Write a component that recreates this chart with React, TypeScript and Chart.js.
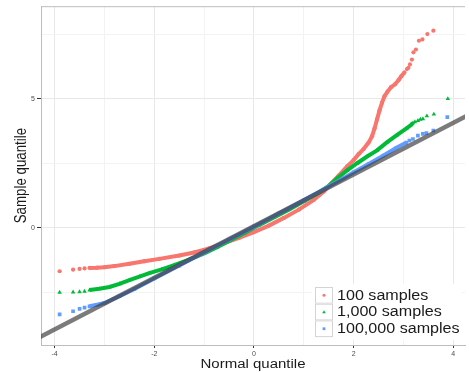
import React, { useEffect, useRef } from 'react';
import { Chart, registerables } from 'chart.js';
Chart.register(...registerables);

const SERIES_LABELS = ['100 samples', '1,000 samples', '100,000 samples'];
const X_TITLE = 'Normal quantile';
const Y_TITLE = 'Sample quantile';
const X_TICK_LABELS = [-4, -2, 0, 2, 4];
const Y_TICK_LABELS = [0, 5];

const RED_X = [-3.9, -3.63, -3.5, -3.4, -3.3, -3.15, -3.0, -2.8, -2.5, -2.2, -1.9, -1.5, -1.2, -0.9, -0.6, -0.3, 0.0, 0.3, 0.6, 0.9, 1.2, 1.4, 1.55, 1.7, 1.87, 2.0, 2.1, 2.2, 2.3, 2.37, 2.42, 2.47, 2.52, 2.57, 2.62, 2.68, 2.75, 2.83, 2.9, 2.96, 3.02, 3.07, 3.1, 3.13, 3.17, 3.2, 3.25, 3.31, 3.38, 3.48, 3.6];
const RED_Y = [-1.69, -1.63, -1.6, -1.58, -1.56, -1.55, -1.53, -1.49, -1.4, -1.3, -1.21, -1.08, -0.96, -0.8, -0.6, -0.4, -0.17, 0.08, 0.38, 0.7, 1.08, 1.4, 1.72, 2.02, 2.38, 2.62, 2.85, 3.05, 3.3, 3.55, 3.85, 4.2, 4.55, 4.85, 5.1, 5.28, 5.45, 5.56, 5.72, 5.88, 6.02, 6.15, 6.2, 6.33, 6.52, 6.8, 6.91, 7.25, 7.3, 7.51, 7.64];

const GREEN_X = [-3.9, -3.63, -3.5, -3.4, -3.3, -3.1, -2.9, -2.7, -2.5, -2.3, -2.1, -1.85, -1.6, -1.3, -1.0, -0.75, -0.5, -0.2, 0.1, 0.4, 0.7, 1.0, 1.3, 1.5, 1.67, 1.87, 2.07, 2.27, 2.47, 2.66, 2.86, 3.06, 3.15, 3.19, 3.23, 3.29, 3.34, 3.39, 3.47, 3.61, 3.89];
const GREEN_Y = [-2.51, -2.5, -2.49, -2.47, -2.42, -2.37, -2.3, -2.18, -2.03, -1.9, -1.76, -1.62, -1.45, -1.24, -1.0, -0.77, -0.52, -0.22, 0.1, 0.4, 0.7, 1.02, 1.36, 1.62, 1.92, 2.22, 2.5, 2.76, 3.0, 3.3, 3.58, 3.85, 3.98, 4.06, 4.1, 4.15, 4.2, 4.22, 4.33, 4.4, 5.0];

const BLUE_X = [-3.9, -3.63, -3.5, -3.4, -3.3, -3.15, -3.0, -2.7, -2.4, -2.0, -1.5, -1.0, -0.5, 0, 0.5, 1.0, 1.5, 1.8, 2.0, 2.3, 2.6, 2.86, 3.06, 3.12, 3.19, 3.29, 3.39, 3.46, 3.6, 3.88];
const BLUE_Y = [-3.36, -3.24, -3.15, -3.1, -3.05, -2.99, -2.92, -2.66, -2.38, -1.97, -1.47, -0.96, -0.46, 0.04, 0.55, 1.06, 1.6, 1.92, 2.15, 2.47, 2.8, 3.1, 3.3, 3.38, 3.44, 3.57, 3.64, 3.67, 3.77, 4.29];

const REF_X = [-4.35, 4.3];
const REF_Y = [-4.3, 4.37];

const COLORS = ['#F8766D', '#00BA38', '#619CFF'];
const SHAPES = ['circle', 'triangle', 'rect'];
const SOLID_RANGES = [[-3.35, 3.03], [-3.35, 3.2], [-3.35, 3.1]];

const toPts = (xs: number[], ys: number[]) => xs.map((x, i) => ({ x, y: ys[i] }));

const FONT = "'Liberation Sans', Arial, sans-serif";

export default function App() {
  const ref = useRef<HTMLCanvasElement | null>(null);
  useEffect(() => {
    document.body.style.margin = '0';
    const canvas = ref.current!;
    const seriesPts = [toPts(RED_X, RED_Y), toPts(GREEN_X, GREEN_Y), toPts(BLUE_X, BLUE_Y)];
    const datasets: any[] = seriesPts.map((pts, i) => ({
      label: SERIES_LABELS[i],
      data: pts,
      showLine: true,
      borderWidth: 4,
      borderColor: COLORS[i],
      backgroundColor: COLORS[i],
      pointBackgroundColor: COLORS[i],
      pointBorderColor: COLORS[i],
      pointBorderWidth: 0,
      pointRadius: i === 0 ? 2.1 : 2.6,
      pointStyle: SHAPES[i],
      order: 3 - i,
      clip: 0,
      segment: {
        borderColor: (ctx: any) => {
          const [lo, hi] = SOLID_RANGES[i];
          return ctx.p0.parsed.x >= lo && ctx.p1.parsed.x <= hi ? COLORS[i] : 'rgba(0,0,0,0)';
        },
      },
    }));
    datasets.push({
      label: 'ref',
      data: toPts(REF_X, REF_Y),
      showLine: true,
      borderColor: 'rgba(60,60,60,0.68)',
      borderWidth: 4.5,
      pointRadius: 0,
      order: 0,
      clip: 0,
    });

    const frame = {
      id: 'frame',
      afterDatasetsDraw(chart: any) {
        const { ctx, chartArea: a } = chart;
        ctx.save();
        ctx.strokeStyle = '#bdbdbd';
        ctx.lineWidth = 1;
        ctx.beginPath();
        ctx.moveTo(a.left, a.top + 0.5);
        ctx.lineTo(a.right, a.top + 0.5);
        ctx.stroke();
        ctx.restore();
      },
      afterDraw(chart: any) {
        const { ctx, chartArea: a } = chart;
        ctx.save();
        ctx.fillStyle = '#1a1a1a';
        ctx.save();
        ctx.translate((a.left + a.right) / 2, 365);
        ctx.scale(1.2, 1);
        ctx.font = `12.5px ${FONT}`;
        ctx.textAlign = 'center';
        ctx.textBaseline = 'middle';
        ctx.fillText(X_TITLE, 0, 0);
        ctx.restore();
        ctx.save();
        ctx.translate(21.5, (a.top + a.bottom) / 2);
        ctx.scale(1.2, 1);
        ctx.rotate(-Math.PI / 2);
        ctx.font = `13.3px ${FONT}`;
        ctx.textAlign = 'center';
        ctx.textBaseline = 'middle';
        ctx.fillText(Y_TITLE, 0, 0);
        ctx.restore();
        const lx = 315, ly = 287, kw = 18, kh = 16.7;
        ctx.fillStyle = '#ffffff';
        ctx.fillRect(lx - 3, ly - 3, 150, kh * 3 + 6);
        SERIES_LABELS.forEach((lab, i) => {
          const y = ly + i * kh;
          ctx.fillStyle = '#ffffff';
          ctx.fillRect(lx, y, kw, kh);
          ctx.strokeStyle = '#d4d4d4';
          ctx.lineWidth = 1;
          ctx.strokeRect(lx + 0.5, y + 0.5, kw - 1, kh - 1);
          ctx.fillStyle = COLORS[i];
          const cx = lx + kw / 2, cy = y + kh / 2;
          ctx.beginPath();
          if (i === 0) ctx.arc(cx, cy, 1.5, 0, Math.PI * 2);
          else if (i === 1) { ctx.moveTo(cx, cy - 1.8); ctx.lineTo(cx + 1.8, cy + 1.3); ctx.lineTo(cx - 1.8, cy + 1.3); ctx.closePath(); }
          else ctx.rect(cx - 1.4, cy - 1.4, 2.8, 2.8);
          ctx.fill();
          ctx.save();
          ctx.translate(lx + kw + 4, cy + 0.5);
          ctx.scale(1.15, 1);
          ctx.fillStyle = '#1a1a1a';
          ctx.font = `14px ${FONT}`;
          ctx.textAlign = 'left';
          ctx.textBaseline = 'middle';
          ctx.fillText(lab, 0, 0);
          ctx.restore();
        });
        ctx.restore();
      },
    };

    const isIn = (v: number, arr: number[]) => arr.some((t) => Math.abs(t - v) < 1e-6);

    const chart = new Chart(canvas, {
      type: 'scatter',
      data: { datasets },
      plugins: [frame],
      options: {
        animation: false,
        responsive: false,
        events: [],
        layout: { padding: { top: 6, left: 0, right: 0, bottom: 0 } },
        plugins: { legend: { display: false }, tooltip: { enabled: false } },
        scales: {
          x: {
            type: 'linear',
            min: -4.274,
            max: 4.235,
            afterFit: (s: any) => { s.height = 28; },
            border: { color: '#bdbdbd', width: 1 },
            grid: {
              color: (c: any) => (isIn(c.tick.value, X_TICK_LABELS) ? '#e8e8e8' : '#f3f3f3'),
              tickColor: (c: any) => (isIn(c.tick.value, X_TICK_LABELS) ? '#333333' : 'rgba(0,0,0,0)'),
              tickLength: 3,
              lineWidth: 1,
            },
            ticks: {
              stepSize: 1,
              includeBounds: false,
              autoSkip: false,
              maxRotation: 0,
              padding: 2,
              color: '#4d4d4d',
              font: { size: 7, family: FONT },
              callback: (v: any) => (isIn(Number(v), X_TICK_LABELS) ? String(v) : ''),
            },
          },
          y: {
            type: 'linear',
            min: -4.55,
            max: 8.59,
            afterFit: (s: any) => { s.width = 41; },
            border: { color: '#bdbdbd', width: 1 },
            grid: {
              color: (c: any) => (isIn(c.tick.value, Y_TICK_LABELS) ? '#e8e8e8' : '#f3f3f3'),
              tickColor: (c: any) => (isIn(c.tick.value, Y_TICK_LABELS) ? '#333333' : 'rgba(0,0,0,0)'),
              tickLength: 4,
              lineWidth: 1,
            },
            ticks: {
              stepSize: 2.5,
              includeBounds: false,
              autoSkip: false,
              padding: 2,
              color: '#4d4d4d',
              font: { size: 7, family: FONT },
              callback: (v: any) => (isIn(Number(v), Y_TICK_LABELS) ? String(v) : ''),
            },
          },
        },
      } as any,
    });
    return () => chart.destroy();
  }, []);
  return <canvas ref={ref} width={469} height={373} style={{ display: 'block' }} />;
}
